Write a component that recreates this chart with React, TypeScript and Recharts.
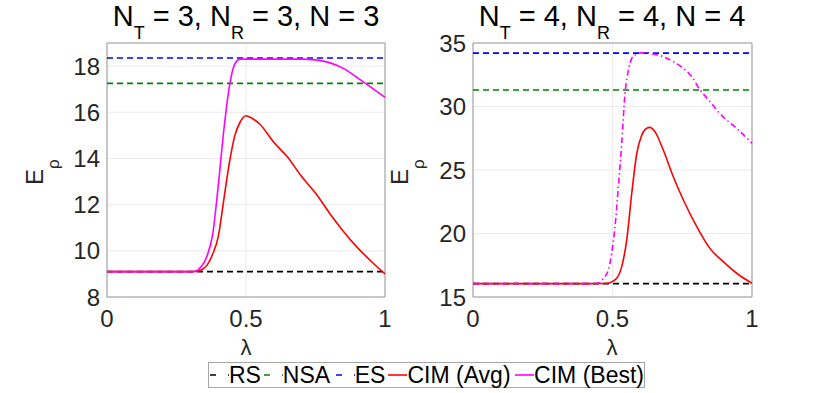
import { LineChart, Line, XAxis, YAxis, CartesianGrid, ReferenceArea } from "recharts";

const FONT = '"Liberation Sans", Arial, Helvetica, sans-serif';

// N = 3 panel
const LAM3_AVG = [0, 0.2, 0.3, 0.32, 0.34, 0.36, 0.38, 0.4, 0.42, 0.44, 0.46, 0.48, 0.5, 0.52, 0.55, 0.6, 0.65, 0.7, 0.75, 0.8, 0.85, 0.9, 0.95, 1.0];
const AVG3 = [9.1, 9.1, 9.1, 9.11, 9.18, 9.38, 9.85, 10.6, 12.2, 13.8, 15.0, 15.6, 15.85, 15.75, 15.48, 14.7, 14.05, 13.22, 12.5, 11.64, 10.85, 10.15, 9.55, 9.0];
const LAM3_BEST = [0, 0.2, 0.3, 0.32, 0.34, 0.36, 0.38, 0.4, 0.42, 0.44, 0.46, 0.48, 0.5, 0.6, 0.7, 0.75, 0.8, 0.85, 0.9, 0.95, 1.0];
const BEST3 = [9.1, 9.1, 9.1, 9.13, 9.33, 9.78, 10.7, 12.8, 15.2, 17.1, 18.1, 18.3, 18.3, 18.3, 18.3, 18.27, 18.15, 17.9, 17.5, 17.08, 16.65];
const BASE3 = [9.1, 17.25, 18.35]; // RS, NSA, ES
const YTICKS3 = [8, 10, 12, 14, 16, 18];

// N = 4 panel
const LAM4_AVG = [0, 0.2, 0.4, 0.47, 0.491, 0.515, 0.533, 0.551, 0.569, 0.587, 0.605, 0.622, 0.634, 0.652, 0.682, 0.718, 0.754, 0.802, 0.849, 0.897, 0.945, 1.0];
const AVG4 = [16.05, 16.05, 16.05, 16.06, 16.13, 16.47, 17.39, 19.49, 23.17, 26.3, 27.76, 28.28, 28.36, 28.02, 26.57, 24.47, 22.64, 20.54, 18.83, 17.78, 16.87, 16.08];
const LAM4_BEST = [0, 0.2, 0.4, 0.449, 0.467, 0.485, 0.497, 0.509, 0.521, 0.533, 0.545, 0.557, 0.569, 0.587, 0.61, 0.646, 0.682, 0.718, 0.754, 0.784, 0.814, 0.85, 0.879, 0.909, 0.945, 1.0];
const BEST4 = [16.05, 16.05, 16.05, 16.08, 16.47, 17.13, 18.44, 20.54, 23.69, 27.1, 31.04, 32.87, 33.8, 34.13, 34.24, 34.13, 33.92, 33.53, 33.0, 32.35, 31.3, 30.38, 29.59, 28.94, 28.28, 27.1];
const BASE4 = [16.05, 31.3, 34.2];
const YTICKS4 = [15, 20, 25, 30, 35];

const XTICKS = [0, 0.5, 1];
const BASE_NAMES = ["RS", "NSA", "ES"];
const BASE_COLORS = ["#000000", "#008000", "#0000ff"];

const zip = (xs: number[], ys: number[]) => xs.map((x, i) => ({ x, y: ys[i] }));

type PanelProps = {
  width: number;
  yWidth: number;
  right: number;
  yDomain: [number, number];
  yTicks: number[];
  avg: { x: number; y: number }[];
  best: { x: number; y: number }[];
  base: number[];
  bestDash?: string;
};

function Panel({ width, yWidth, right, yDomain, yTicks, avg, best, base, bestDash }: PanelProps) {
  const tick = { fontSize: 24, fill: "#262626", fontFamily: FONT };
  return (
    <LineChart width={width} height={393} margin={{ top: 43, right, bottom: 56, left: 0 }}>
      <CartesianGrid stroke="#ebebeb" strokeWidth={1} />
      <XAxis type="number" dataKey="x" domain={[0, 1]} ticks={XTICKS} height={40}
        tick={tick} tickLine={false} axisLine={false} tickSize={0} tickMargin={13} allowDuplicatedCategory={false} />
      <YAxis type="number" domain={yDomain} ticks={yTicks} width={yWidth}
        tick={tick} tickLine={false} axisLine={false} tickSize={0} tickMargin={7} />
      <ReferenceArea x1={0} x2={1} y1={yDomain[0]} y2={yDomain[1]} fill="none" stroke="#9a9a9a" strokeWidth={1} />
      {base.map((v, i) => (
        <Line key={BASE_NAMES[i]} data={[{ x: 0, y: v }, { x: 1, y: v }]} dataKey="y" stroke={BASE_COLORS[i]}
          strokeWidth={1.6} strokeDasharray="6 4" dot={false} isAnimationActive={false} />
      ))}
      <Line data={avg} dataKey="y" type="monotone" stroke="#ff0000" strokeWidth={1.6} dot={false} isAnimationActive={false} />
      <Line data={best} dataKey="y" type="monotone" stroke="#ff00ff" strokeWidth={1.6} strokeDasharray={bestDash}
        dot={false} isAnimationActive={false} />
    </LineChart>
  );
}

function Title({ x, n }: { x: number; n: number }) {
  return (
    <text x={x} y={26} textAnchor="middle" fontSize={29} fontFamily={FONT} fill="#000">
      N<tspan fontSize={18} dy={13}>T</tspan>
      <tspan dy={-13}>{` = ${n}, N`}</tspan>
      <tspan fontSize={18} dy={13}>R</tspan>
      <tspan dy={-13}>{` = ${n}, N = ${n}`}</tspan>
    </text>
  );
}

function YLabel({ x }: { x: number }) {
  return (
    <text transform={`translate(${x},185) rotate(-90)`} fontSize={24} fontFamily={FONT} fill="#262626">
      E<tspan fontSize={17} dy={16}>ρ</tspan>
    </text>
  );
}

const LEGEND = [
  { name: "RS", color: BASE_COLORS[0], dash: "6 12", w: 54 },
  { name: "NSA", color: BASE_COLORS[1], dash: "6 12", w: 72 },
  { name: "ES", color: BASE_COLORS[2], dash: "6 12", w: 53 },
  { name: "CIM (Avg)", color: "#ff0000", dash: undefined, w: 127 },
  { name: "CIM (Best)", color: "#ff00ff", dash: undefined, w: 129 },
];

export default function App() {
  return (
    <div style={{ position: "absolute", left: 0, top: 0, width: 830, height: 393, background: "#fff", fontFamily: FONT }}>
      <div style={{ position: "absolute", left: 0, top: 0 }}>
        <Panel width={400} yWidth={107} right={15} yDomain={[8, 19]} yTicks={YTICKS3}
          avg={zip(LAM3_AVG, AVG3)} best={zip(LAM3_BEST, BEST3)} base={BASE3} />
      </div>
      <div style={{ position: "absolute", left: 415, top: 0 }}>
        <Panel width={415} yWidth={58} right={78} yDomain={[15, 35]} yTicks={YTICKS4}
          avg={zip(LAM4_AVG, AVG4)} best={zip(LAM4_BEST, BEST4)} base={BASE4} bestDash="6 3 1.5 3" />
      </div>
      <svg width={830} height={393} style={{ position: "absolute", left: 0, top: 0, pointerEvents: "none" }}>
        <Title x={246} n={3} />
        <Title x={612} n={4} />
        <YLabel x={43} />
        <YLabel x={408} />
        <text x={246} y={355} textAnchor="middle" fontSize={22} fontFamily={FONT} fill="#262626">λ</text>
        <text x={612} y={355} textAnchor="middle" fontSize={22} fontFamily={FONT} fill="#262626">λ</text>
      </svg>
      <div style={{ position: "absolute", left: 208, top: 362, width: 437, height: 26, boxSizing: "border-box",
        border: "1px solid #a6a6a6", background: "#fff", display: "flex", alignItems: "center", paddingLeft: 1,
        fontSize: 23, lineHeight: "24px", color: "#000", whiteSpace: "nowrap" }}>
        {LEGEND.map(l => (
          <div key={l.name} style={{ width: l.w, display: "flex", alignItems: "center" }}>
            <svg width={19} height={10} style={{ flex: "none" }}>
              <line x1={0} y1={5} x2={19} y2={5} stroke={l.color} strokeWidth={1.6} strokeDasharray={l.dash} />
            </svg>
            <span>{l.name}</span>
          </div>
        ))}
      </div>
    </div>
  );
}
